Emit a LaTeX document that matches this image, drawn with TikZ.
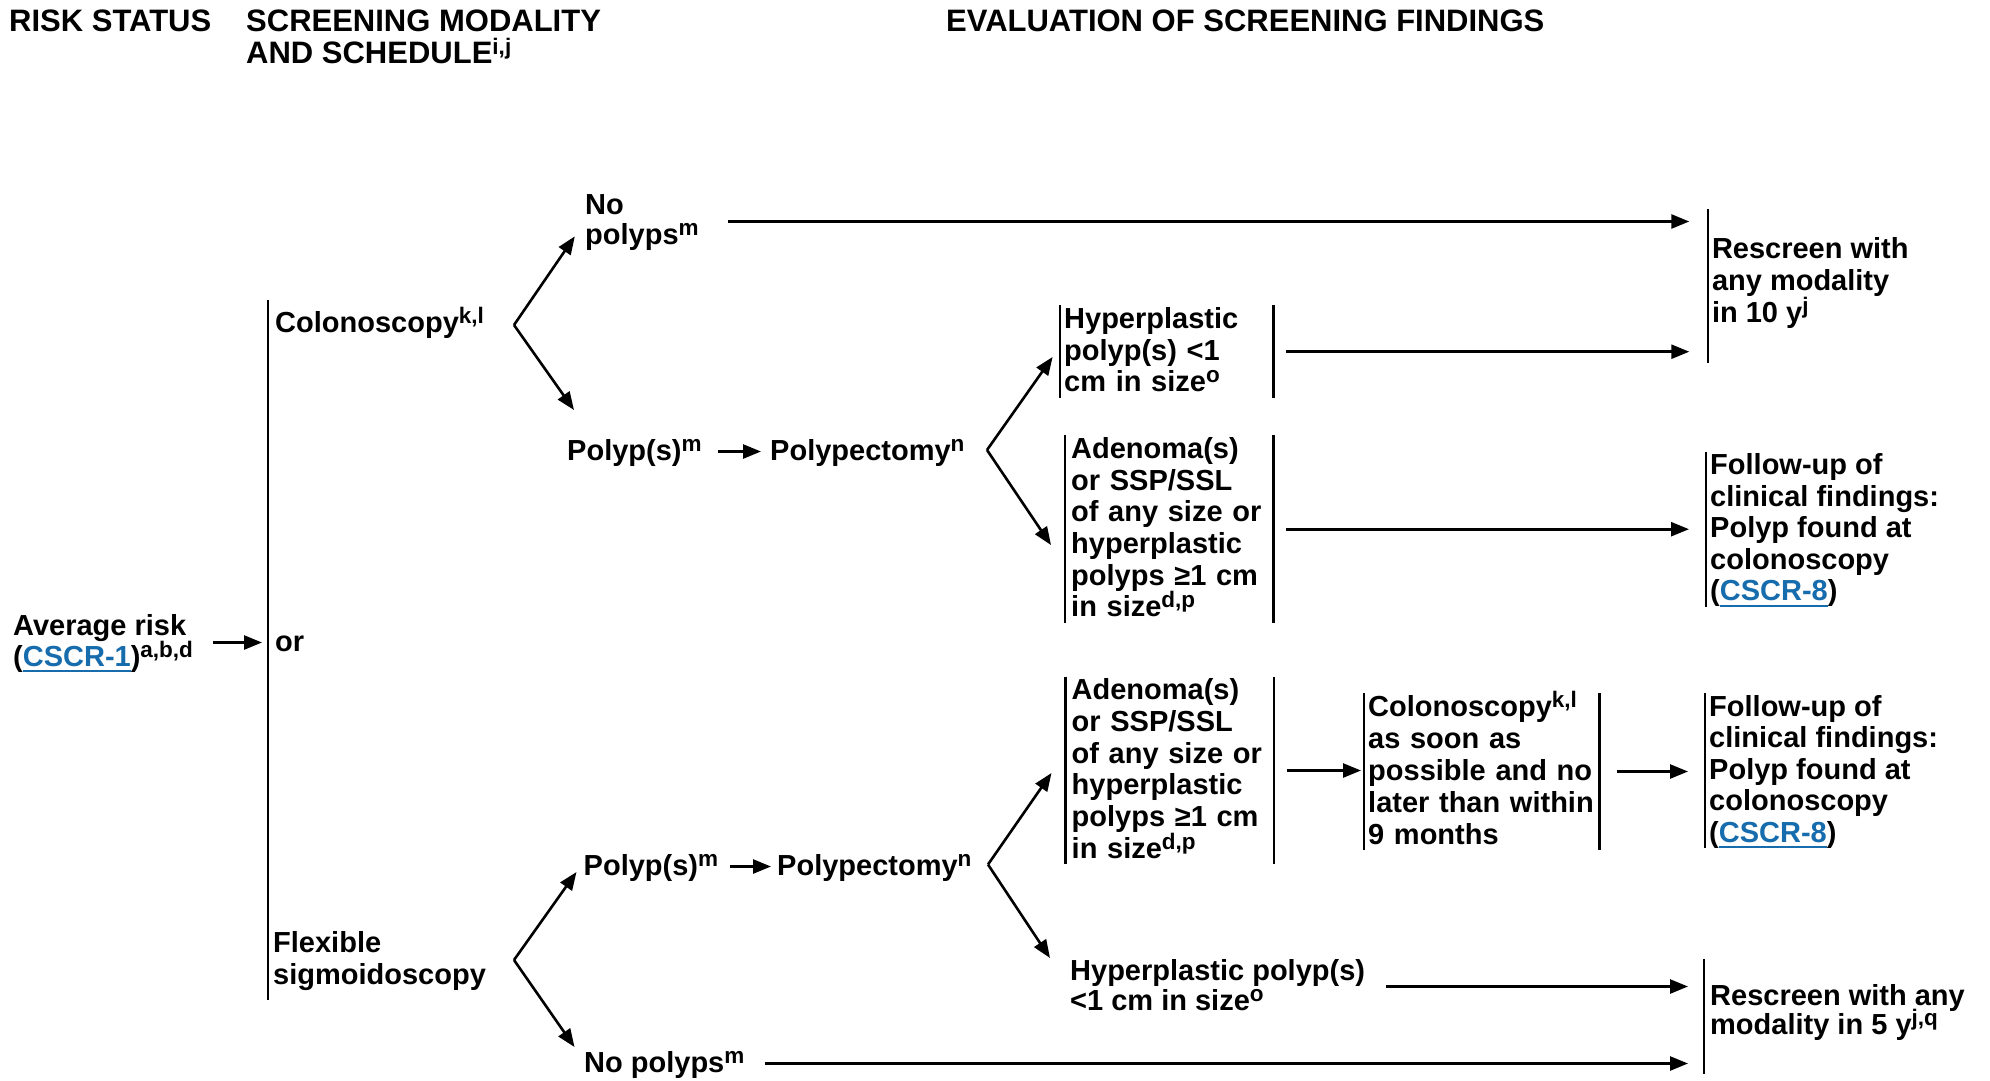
\documentclass[tikz,border=0pt]{standalone}
\usepackage{fontspec}
\setmainfont{Liberation Sans}
\usetikzlibrary{arrows.meta}
\definecolor{linkblue}{RGB}{22,108,172}
\newcommand\fs[1]{\fontsize{29}{#1}\selectfont}
\newcommand\TS{\rule{0pt}{23pt}}
\newcommand\BS{\rule[-6pt]{0pt}{6pt}}
\newcommand\sups[1]{\raisebox{9pt}[0pt][0pt]{\fontsize{22.5}{22.5}\selectfont #1}}
\newcommand\lnk[1]{{\color{linkblue}\setbox0\hbox{#1}\rlap{\rule[-6pt]{\wd0}{2.2pt}}\box0}}
\begin{document}
\begin{tikzpicture}[x=1pt,y=-1pt,
  txt/.style={inner sep=0pt, anchor=west, align=left, font=\bfseries\fs{31.7}},
  boxn/.style={inner xsep=4pt, inner ysep=0pt, anchor=west, align=left, font=\bfseries\fs{31.7}},
  hdr/.style={inner sep=0pt, align=left, font=\bfseries\fontsize{31}{32}\selectfont},
  bar/.style={line width=2.3pt},
  arr/.style={line width=2.6pt, -{Triangle[length=18pt,width=14pt]}}]
\useasboundingbox (0,0) rectangle (1990,1080);
\fill[white] (0,0) rectangle (1990,1080);

% headers
\node[hdr, anchor=base west] (hrisk) at (9,31) {RISK STATUS};
\node[hdr, anchor=west] (hscr) at (246,38.5) {\TS SCREENING MODALITY\\AND SCHEDULE\sups{i,j}\BS};
\node[hdr, anchor=base west] (heval) at (946,31) {EVALUATION OF SCREENING FINDINGS};

% left column
\node[txt, font=\bfseries\fs{30.5}] (avg) at (13,642.5) {\TS Average risk\\(\lnk{CSCR-1})\sups{a,b,d}\BS};
\coordinate (bt) at (268,300);
\coordinate (bb) at (268,1000);
\draw[bar] (bt) -- (bb);
\draw[arr, shorten <=20pt, shorten >=6pt] (avg.east) -- (avg.east -| bt);
\node[txt, anchor=base west] (orn) at (275,651) {or};
\node[txt] (colo) at (275,324.5) {\TS Colonoscopy\sups{k,l}\BS};
\node[txt, font=\bfseries\fs{32}] (flex) at (273,960.5) {\TS Flexible\\sigmoidoscopy\BS};

% upper branch
\coordinate (f1) at (514,325);
\coordinate (f1d) at (574,410);
\node[txt, font=\bfseries\fs{30}] (np1) at (585,221.5) {\TS No\\polyps\sups{m}\BS};
\draw[arr, shorten >=18pt] (f1) -- (np1.west);
\draw[arr] (f1) -- (f1d);
\node[txt] (pol1) at (567,451.5) {\TS Polyp(s)\sups{m}\BS};
\node[txt] (pect1) at (770,451.5) {\TS Polypectomy\sups{n}\BS};
\draw[arr, shorten <=16pt, shorten >=9pt] (pol1.east) -- (pect1.west);

\coordinate (f2) at (987,450);
\coordinate (f2u) at (1052.6,357);
\coordinate (f2d) at (1051,545);
\draw[arr] (f2) -- (f2u);
\draw[arr] (f2) -- (f2d);

\node[boxn, text width=205pt] (hyp1) at (1060,351.7) {\TS Hyperplastic\\polyp(s) <1\\cm in size\sups{o}\BS};
\draw[bar] (hyp1.north west) -- (hyp1.south west) (hyp1.north east) -- (hyp1.south east);
\node[boxn, inner xsep=6pt, text width=196pt] (ad1) at (1065,529.2) {\TS Adenoma(s)\\or SSP/SSL\\of any size or\\hyperplastic\\polyps ≥1 cm\\in size\sups{d,p}\BS};
\draw[bar] (ad1.north west) -- (ad1.south west) (ad1.north east) -- (ad1.south east);

\node[boxn, minimum height=153.7pt, font=\bfseries\fs{32}] (rs1) at (1707.8,285.9) {\TS Rescreen with\\any modality\\in 10 y\sups{j}\rule[-14.8pt]{0pt}{14.8pt}};
\draw[bar] (rs1.north west) -- (rs1.south west);
\node[boxn, minimum height=153.3pt, font=\bfseries\fs{31.5}] (fu1) at (1706,529.4) {\TS Follow-up of\\clinical findings:\\Polyp found at\\colonoscopy\\(\lnk{CSCR-8})\BS};
\draw[bar] (fu1.north west) -- (fu1.south west);

\draw[arr, shorten <=29pt, shorten >=18.5pt] (np1.east) -- (np1.east -| rs1.west);
\draw[arr, shorten <=13pt, shorten >=18.5pt] (hyp1.east) -- (hyp1.east -| rs1.west);
\draw[arr, shorten <=13pt, shorten >=17pt] (ad1.east) -- (ad1.east -| fu1.west);

% lower branch
\coordinate (f3) at (514,960);
\coordinate (f3u) at (576.5,872);
\coordinate (f3d) at (574.5,1047);
\draw[arr] (f3) -- (f3u);
\draw[arr] (f3) -- (f3d);
\node[txt] (pol2) at (583.5,866.5) {\TS Polyp(s)\sups{m}\BS};
\node[txt] (pect2) at (777,866.5) {\TS Polypectomy\sups{n}\BS};
\draw[arr, shorten <=12pt, shorten >=6pt] (pol2.east) -- (pect2.west);
\node[txt] (np2) at (584,1063.5) {\TS No polyps\sups{m}\BS};

\coordinate (f4) at (988,864.5);
\coordinate (f4u) at (1051.5,773);
\coordinate (f4d) at (1050,958);
\draw[arr] (f4) -- (f4u);
\draw[arr] (f4) -- (f4d);

\node[boxn, inner xsep=6pt, text width=196.3pt] (ad2) at (1065.5,770.5) {\TS Adenoma(s)\\or SSP/SSL\\of any size or\\hyperplastic\\polyps ≥1 cm\\in size\sups{d,p}\BS};
\draw[bar] (ad2.north west) -- (ad2.south west) (ad2.north east) -- (ad2.south east);
\node[boxn, text width=227pt, font=\bfseries\fs{32}] (col2) at (1364,771.5) {\TS Colonoscopy\sups{k,l}\\as soon as\\possible and no\\later than within\\9 months\BS};
\draw[bar] (col2.north west) -- (col2.south west) (col2.north east) -- (col2.south east);
\node[boxn, minimum height=155pt, font=\bfseries\fs{31.5}] (fu2) at (1705,770.5) {\TS Follow-up of\\clinical findings:\\Polyp found at\\colonoscopy\\(\lnk{CSCR-8})\BS};
\draw[bar] (fu2.north west) -- (fu2.south west);
\node[txt, font=\bfseries\fs{30}] (hyp2) at (1070,986.5) {\TS Hyperplastic polyp(s)\\<1 cm in size\sups{o}\BS};
\node[boxn, inner xsep=6pt, minimum height=115pt, font=\bfseries\fs{29}] (rs2) at (1704,1016.5) {\TS Rescreen with any\\modality in 5 y\sups{j,q}\rule[-17pt]{0pt}{17pt}};
\draw[bar] (rs2.north west) -- (rs2.south west);

\draw[arr, shorten <=13pt, shorten >=3pt] (ad2.east) -- (ad2.east -| col2.west);
\draw[arr, shorten <=17.5pt, shorten >=17pt] (col2.east) -- (col2.east -| fu2.west);
\draw[arr, shorten <=21pt, shorten >=16pt] (hyp2.east) -- (hyp2.east -| rs2.west);
\draw[arr, shorten <=20pt, shorten >=16pt] (np2.east) -- (np2.east -| rs2.west);
\end{tikzpicture}
\end{document}
